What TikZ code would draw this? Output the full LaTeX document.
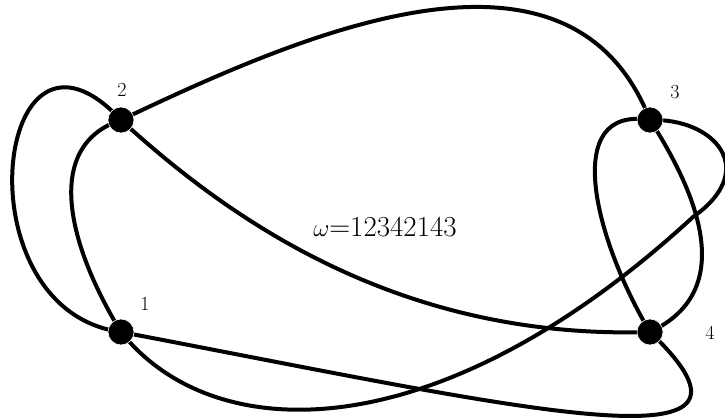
\documentclass[tikz,border=0pt]{standalone}
\begin{document}
\begin{tikzpicture}[x=1pt,y=-1pt,
  vtx/.style={circle,fill=black,draw=white,line width=0.6pt,minimum size=26pt,inner sep=0pt},
  lbl/.style={inner sep=0pt,font=\fontsize{20}{24}\selectfont},
  strand/.style={line width=4pt,line cap=round}]
\useasboundingbox (0,0) rectangle (725,419);
\coordinate (p1) at (121,332);
\coordinate (p2) at (121,120);
\coordinate (p3) at (650,120);
\coordinate (p4) at (650,332);
\coordinate (w) at (693,217);
% strands
\draw[strand] (p1) .. controls (-42,310) and (-5,-15) .. (p2);
\draw[strand] (p2) .. controls (45,145) and (65,240) .. (p1);
\draw[strand] (p2) .. controls (300,35) and (570,-85) .. (p3);
\draw[strand] (p3) .. controls (695,190) and (740,290) .. (p4);
\draw[strand] (p3) .. controls (560,105) and (595,240) .. (p4);
\draw[strand] (p3) .. controls (715,118) and (760,170) .. (w)
                   .. controls (440,450) and (215,450) .. (p1);
\draw[strand] (p4) .. controls (400,340) and (230,220) .. (p2);
\draw[strand] (p1) .. controls (520,408) and (800,475) .. (p4);
% vertices
\node[vtx] (n1) at (p1) {};
\node[vtx] (n2) at (p2) {};
\node[vtx] (n3) at (p3) {};
\node[vtx] (n4) at (p4) {};
\node[lbl] (l1) at (145,304) {1};
\node[lbl] (l2) at (122,90) {2};
\node[lbl] (l3) at (675,92) {3};
\node[lbl] (l4) at (710,333) {4};
\node[inner sep=0pt,font=\fontsize{29}{34}\selectfont] (w0) at (385,227) {$\omega$=12342143};
\end{tikzpicture}
\end{document}
